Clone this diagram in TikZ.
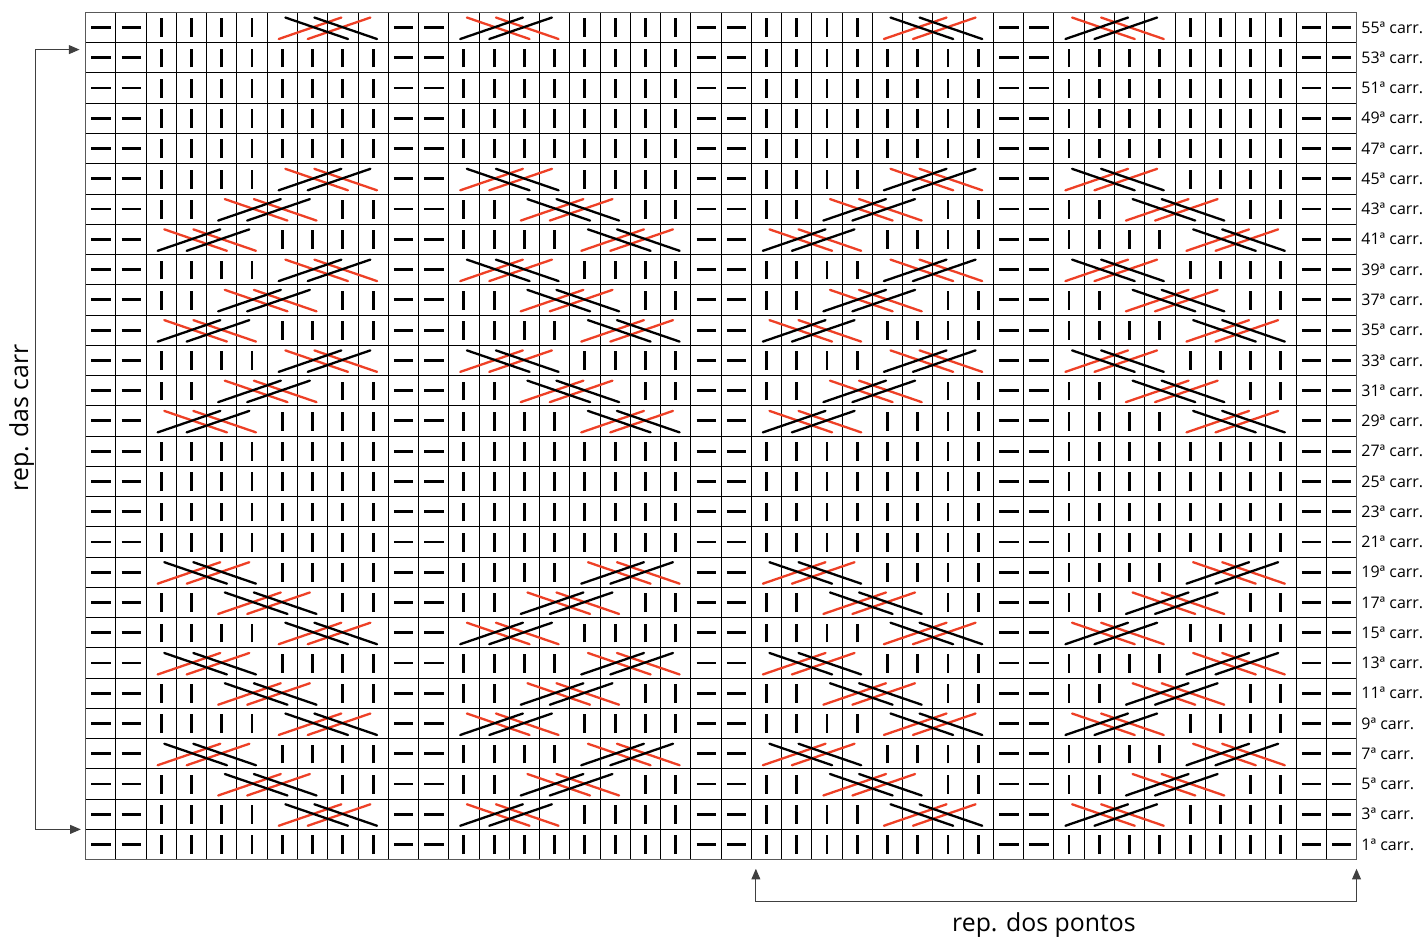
\documentclass[tikz,border=0pt]{standalone}
\usepackage{fontspec}
\setmainfont{Open Sans}
\usetikzlibrary{arrows.meta}

\definecolor{cabred}{RGB}{238,64,38}
% cable start (in block A) for each row, 99 = no cable
\def\cabA{{99,4,2,0,4,2,0,4,2,0,99,99,99,99,0,2,4,0,2,4,0,2,4,99,99,99,99,4}}

% black \ over red /
\newcommand\cabK[2]{%
  \draw[strand,cabred] (#1+0.38,#2+0.12) -- (#1+2.45,#2+0.83) (#1+1.34,#2+0.12) -- (#1+3.41,#2+0.83);
  \draw[strand] (#1+0.6,#2+0.83) -- (#1+2.67,#2+0.12) (#1+1.56,#2+0.83) -- (#1+3.63,#2+0.12);}
% black / over red \
\newcommand\cabR[2]{%
  \draw[strand,cabred] (#1+0.6,#2+0.83) -- (#1+2.67,#2+0.12) (#1+1.56,#2+0.83) -- (#1+3.63,#2+0.12);
  \draw[strand] (#1+0.38,#2+0.12) -- (#1+2.45,#2+0.83) (#1+1.34,#2+0.12) -- (#1+3.41,#2+0.83);}

\begin{document}
\begin{tikzpicture}[x=0.6cm,y=0.6cm,
  cell/.style={line width=0.5pt},
  knit/.style={line width=1.6pt},
  purl/.style={line width=1.6pt},
  strand/.style={line width=1.3pt,line cap=round},
  rep/.style={draw=black!75,line width=0.6pt,{Triangle[length=6pt,width=5pt]}-{Triangle[length=6pt,width=5pt]}},
  rowlab/.style={anchor=west,inner sep=0pt,font=\fontsize{9}{10}\selectfont},
  replab/.style={anchor=base,inner sep=0pt,font=\fontsize{14}{16}\selectfont}]
\useasboundingbox (-2.83,-2.545) rectangle (44.23,28.41);

% stitches
\foreach \j in {0,...,27}{
  \pgfmathtruncatemacro\a{\cabA[\j]}
  \foreach \c in {0,...,41}{
    \pgfmathtruncatemacro\k{mod(\c,10)-2}
    \pgfmathtruncatemacro\o{mod(int(\c/10),2)==0 ? \a : 4-\a}
    \ifnum\k<0
      \draw[purl] (\c+0.19,\j+0.5) -- (\c+0.83,\j+0.5);
    \else
      \pgfmathtruncatemacro\shw{(\k<\o) || (\k>\o+3)}
      \ifnum\shw=1 \draw[knit] (\c+0.5,\j+0.18) -- (\c+0.5,\j+0.8); \fi
    \fi
  }
}

% grid
\draw[cell,step=0.6cm] (0,0) grid (42,28);
\draw[line width=0.9pt,black!65] (0,0) rectangle (42,28);

% cables
\foreach \j/\a/\t in {1/4/0,2/2/0,3/0/0,4/4/0,5/2/0,6/0/0,7/4/0,8/2/0,9/0/0,
    14/0/1,15/2/1,16/4/1,17/0/1,18/2/1,19/4/1,20/0/1,21/2/1,22/4/1,27/4/0}{
  \ifnum\t=0
    \cabK{2+\a}{\j} \cabR{16-\a}{\j} \cabK{22+\a}{\j} \cabR{36-\a}{\j}
  \else
    \cabR{2+\a}{\j} \cabK{16-\a}{\j} \cabR{22+\a}{\j} \cabK{36-\a}{\j}
  \fi
}

% row labels
\foreach \j in {0,...,27}{
  \pgfmathtruncatemacro\rn{2*\j+1}
  \node[rowlab] (r\rn) at (42.15,\j+0.5) {\rn{}ª carr.};
}

% repeats
\coordinate (rt) at (-0.2,26.77);
\coordinate (rb) at (-0.16,1);
\coordinate (rc) at (-1.65,1);
\draw[rep] (rt) -| (rc) -- (rb);
\node[replab,rotate=90] (carr) at (-1.9,14.6) {rep. das carr};

\coordinate (pl) at (22.15,-0.3);
\coordinate (pr) at (42,-0.3);
\coordinate (pc) at (22.15,-1.38);
\draw[rep] (pl) -- (pc) -| (pr);
\node[replab] (pontos) at (31.67,-2.37) {rep. dos pontos};
\end{tikzpicture}
\end{document}
